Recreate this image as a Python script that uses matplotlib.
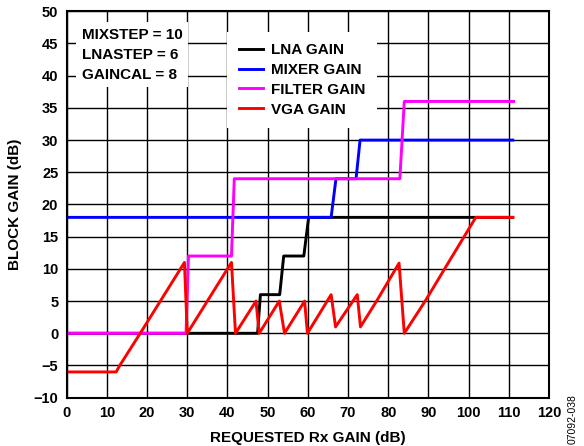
import matplotlib
matplotlib.use("Agg")
import matplotlib.pyplot as plt

plt.rcParams['font.family'] = ['Liberation Sans', 'DejaVu Sans']
plt.rcParams['font.weight'] = 'bold'

# requested Rx gain (dB) vs block gains (dB)
lna_x = [0, 47.5, 48.2, 53, 54, 59, 60.2, 111]
lna_y = [0, 0, 6, 6, 12, 12, 18, 18]

mixer_x = [0, 65.8, 67, 72, 73, 111]
mixer_y = [18, 18, 24, 24, 30, 30]

filter_x = [0, 29.7, 30.3, 41, 41.7, 82.9, 84, 111.2]
filter_y = [0, 0, 12, 12, 24, 24, 36, 36]

vga_x = [0, 12.3, 13.2, 18.3, 29.3, 30, 41, 42, 47.1, 47.9, 52.9, 54.2, 59.2, 59.9,
         65.8, 66.9, 72.3, 73.1, 77.3, 82.7, 84, 89.2, 95, 101.8, 111]
vga_y = [-6, -6, -5, 0, 11, 0, 11, 0, 5, 0, 5, 0, 5, 0,
         6, 1, 6, 1, 5.2, 10.9, 0, 5, 11, 18, 18]

fig = plt.figure(figsize=(5.84, 4.46), dpi=100)
ax = fig.add_axes([0.1142, 0.1083, 0.8258, 0.8664])

lw = 2.1
ax.plot(lna_x, lna_y, color='black', lw=lw, label='LNA GAIN')
ax.plot(mixer_x, mixer_y, color='#0000ff', lw=lw, label='MIXER GAIN')
ax.plot(filter_x, filter_y, color='#ff00ff', lw=lw, label='FILTER GAIN')
ax.plot(vga_x, vga_y, color='#ff0000', lw=lw, label='VGA GAIN')

ax.set_xlim(0, 120)
ax.set_ylim(-10, 50)
ax.set_xticks(range(0, 121, 10))
ax.set_yticks(range(-10, 51, 5))
ax.tick_params(length=0, labelsize=10.5, pad=6)
ax.grid(True, color='black', lw=1.0)
ax.set_axisbelow(True)
for s in ax.spines.values():
    s.set_linewidth(1.5)

ax.set_xlabel('REQUESTED Rx GAIN (dB)', fontsize=11, fontweight='bold', labelpad=8)
ax.set_ylabel('BLOCK GAIN (dB)', fontsize=11, fontweight='bold', labelpad=8)

ax.text(0.031, 0.958, 'MIXSTEP = 10\nLNASTEP = 6\nGAINCAL = 8', transform=ax.transAxes,
        fontsize=11, fontweight='bold', va='top', ha='left', linespacing=1.55,
        bbox=dict(facecolor='white', edgecolor='none', pad=4), zorder=5)

leg = ax.legend(loc='upper left', bbox_to_anchor=(0.333, 0.947), borderaxespad=0,
                fontsize=11, frameon=True, fancybox=False, framealpha=1,
                handlelength=1.6, handletextpad=0.5, labelspacing=0.38, borderpad=0.75)
leg.get_frame().set_edgecolor('white')
leg.get_frame().set_linewidth(0)
leg.set_zorder(5)

fig.text(0.981, 0.06, '07092-038', rotation=90, fontsize=7.5, fontweight='normal',
         ha='center', va='center')

fig.savefig('out.png', dpi=100)
